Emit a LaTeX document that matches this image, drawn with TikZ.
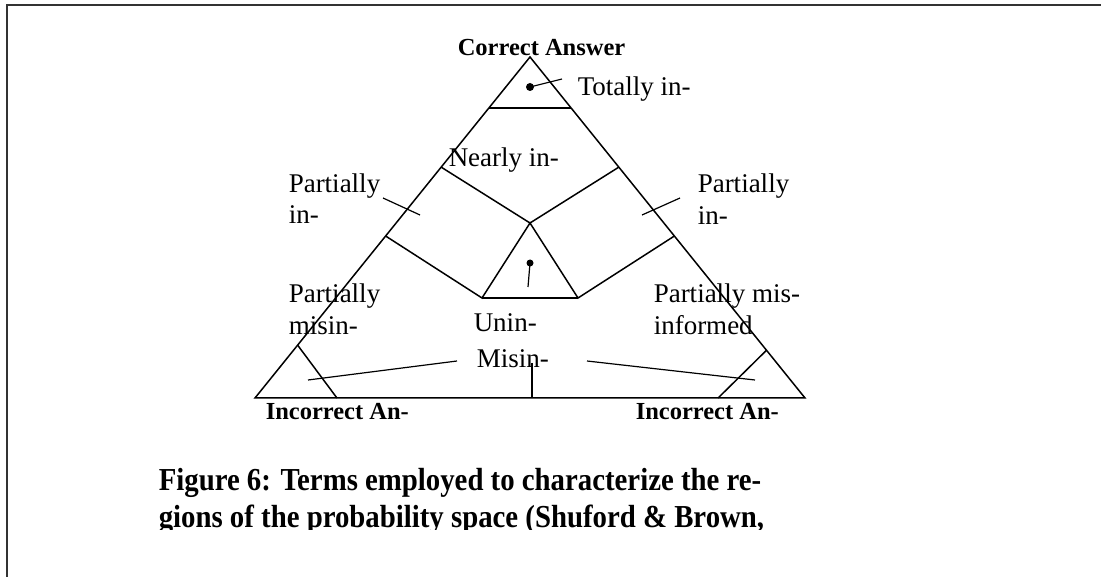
\documentclass[tikz,border=0pt]{standalone}
\usepackage{fontspec}
\setmainfont{Liberation Serif}
\newfontfamily\capfont{Liberation Serif}[FakeStretch=0.9]
\usetikzlibrary{calc}

\begin{document}
\begin{tikzpicture}[x=1pt, y=-1pt, line width=1.5pt,
  lbl/.style={anchor=base west, inner sep=0pt, font=\fontsize{27}{30}\selectfont},
  corner/.style={anchor=base west, inner sep=0pt, font=\fontsize{24.5}{26}\selectfont\bfseries},
  capline/.style={anchor=base west, inner sep=0pt, font=\capfont\fontsize{32}{36}\selectfont\bfseries}]
  \useasboundingbox (0,0) rectangle (1101,577);
  \draw[line width=2pt, black!80] (7,577) -- (7,5) -- (1101,5);

  \coordinate (T) at (530, 57);
  \coordinate (L) at (255, 398);
  \coordinate (R) at (805, 398);
  \coordinate (C) at (530, 223);   % centre of the space
  \coordinate (U1) at (482, 298);
  \coordinate (U2) at (578, 298);

  \draw (T) -- (L) -- (R) -- cycle;
  \draw ($(T)!0.15!(L)$) -- ($(T)!0.15!(R)$);
  \draw ($(T)!0.323!(L)$) -- (C) -- ($(T)!0.323!(R)$);
  \draw ($(T)!0.525!(L)$) -- (U1) -- (C) -- (U2) -- ($(T)!0.525!(R)$);
  \draw (U1) -- (U2);
  \draw ($(L)!0.155!(T)$) -- ($(L)!0.149!(R)$);
  \draw ($(R)!0.14!(T)$) -- ($(R)!0.158!(L)$);

  % leaders
  \coordinate (d1) at (530, 87);
  \coordinate (e1) at (562, 79);
  \coordinate (d2) at (530, 263);
  \coordinate (e2) at (528, 287);
  \fill (d1) circle (4);
  \fill (d2) circle (3.5);
  \draw[line width=1.2pt] (d1) -- (e1);
  \draw[line width=1.2pt] (d2) -- (e2);
  \coordinate (p1) at (383, 198);
  \coordinate (p2) at (420, 215);
  \coordinate (q1) at (642, 215);
  \coordinate (q2) at (680, 198);
  \draw[line width=1.2pt] (p1) -- (p2);
  \draw[line width=1.2pt] (q1) -- (q2);
  \coordinate (m1) at (308, 380);
  \coordinate (m2) at (457, 361);
  \coordinate (n1) at (587, 361);
  \coordinate (n2) at (755, 380);
  \coordinate (v1) at (532, 363);
  \coordinate (v2) at (532, 398);
  \draw[line width=1.2pt] (m1) -- (m2);
  \draw[line width=1.2pt] (n1) -- (n2);
  \draw[line width=1.2pt] (v1) -- (v2);

  \node[corner] (ca) at (457, 56) {Correct Answer};
  \node[corner] (ia1) at (265, 419) {Incorrect An-};
  \node[corner] (ia2) at (635, 419) {Incorrect An-};

  \node[lbl] (tot) at (577, 96) {Totally in-};
  \node[lbl] (near) at (448, 167) {Nearly in-};
  \node[lbl] (pl1) at (288, 193) {Partially};
  \node[lbl] (pl2) at (288, 224) {in-};
  \node[lbl] (pr1) at (697, 193) {Partially};
  \node[lbl] (pr2) at (697, 225) {in-};
  \node[lbl] (ml1) at (288, 303) {Partially};
  \node[lbl] (mr1) at (653, 303) {Partially mis-};
  \node[lbl] (un) at (473, 332) {Unin-};
  \node[lbl] (mis) at (476, 368) {Misin-};
  \begin{scope}
    \clip (250, 310) rectangle (820, 337);
    \node[lbl] (ml2) at (288, 335) {misin-};
    \node[lbl] (mr2) at (653, 335) {informed};
  \end{scope}

  \node[capline] (cap1) at (158, 490) {Figure 6: Terms employed to characterize the re-};
  \begin{scope}
    \clip (150, 500) rectangle (900, 529);
    \node[capline] (cap2) at (158, 527) {gions of the probability space (Shuford \& Brown,};
  \end{scope}
\end{tikzpicture}
\end{document}
